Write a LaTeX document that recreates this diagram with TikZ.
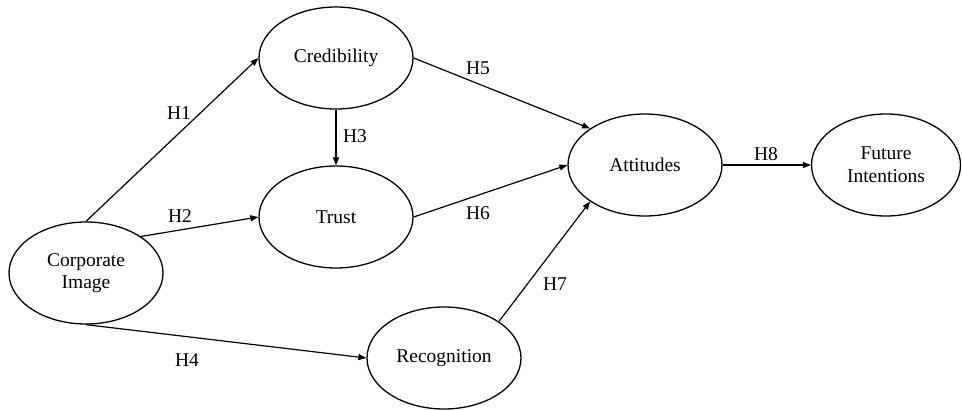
\documentclass[tikz,border=0pt]{standalone}
\usepackage{fontspec}
\setmainfont{Liberation Serif}
\usetikzlibrary{shapes.geometric,arrows.meta}

\tikzset{
  construct/.style={ellipse, draw, line width=1.3pt, minimum width=154pt, minimum height=102pt, inner sep=0pt, align=center},
  path/.style={-{Triangle[length=8pt,width=6pt]}, line width=1.2pt},
  hyp/.style={inner sep=0pt}
}

\begin{document}
\begin{tikzpicture}[x=1pt, y=-1pt, font=\fontsize{19.5}{22.7}\selectfont]
\useasboundingbox (0,0) rectangle (962,410);

%Constructs
\node[construct] (ci) at (86,273) {Corporate\\Image};
\node[construct] (cred) at (336,58) {Credibility};
\node[construct] (trust) at (336,217) {Trust};
\node[construct] (rec) at (444,358) {Recognition};
\node[construct] (att) at (645,165) {Attitudes};
\node[construct, minimum width=149pt] (fi) at (886,165) {Future\\Intentions};

%Paths
\draw[path] (ci.north) -- (cred.west);
\draw[path] (ci.north east) -- (trust.west);
\draw[path] (cred.south) -- (trust.north);
\draw[path] (ci.south) -- (rec.west);
\draw[path] (cred.east) -- (att.north west);
\draw[path] (trust.east) -- (att.west);
\draw[path] (rec.north east) -- (att.south west);
\draw[path] (att.east) -- (fi.west);

%Hypothesis labels
\node[hyp] (h1) at (179,113) {H1};
\node[hyp] (h2) at (180,216) {H2};
\node[hyp] (h3) at (355,136) {H3};
\node[hyp] (h4) at (187,360) {H4};
\node[hyp] (h5) at (478,68) {H5};
\node[hyp] (h6) at (478,213) {H6};
\node[hyp] (h7) at (555,284) {H7};
\node[hyp] (h8) at (766,154) {H8};
\end{tikzpicture}
\end{document}
